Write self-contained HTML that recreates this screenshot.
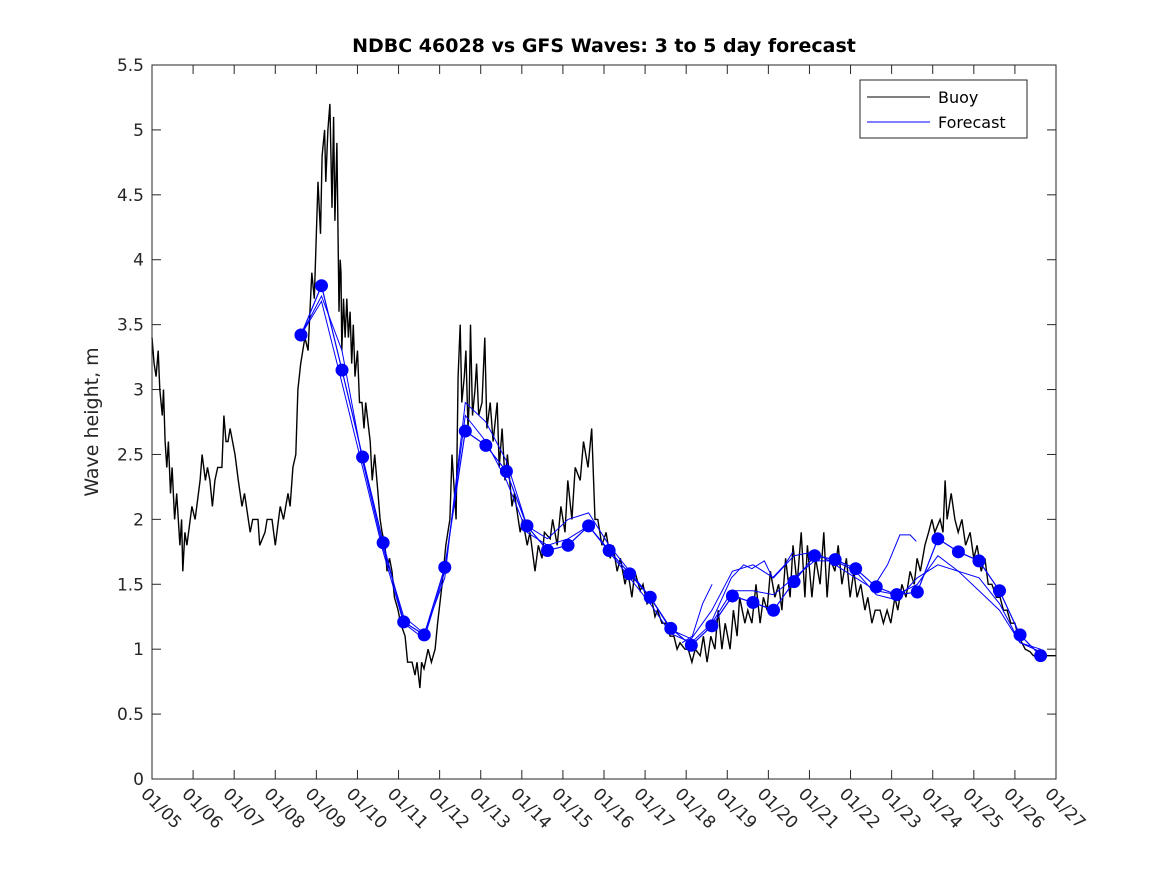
<!DOCTYPE html>
<html><head><meta charset="utf-8"><style>
html,body{margin:0;padding:0;background:#fff;}
svg{display:block;font-family:"DejaVu Sans","Liberation Sans",sans-serif;}
</style></head><body>
<svg id="chart" width="1167" height="875" viewBox="0 0 1167 875" xmlns="http://www.w3.org/2000/svg">
<rect x="0" y="0" width="1167" height="875" fill="#fff"/>
<text x="604" y="52" text-anchor="middle" font-size="19" font-weight="bold" fill="#000">NDBC 46028 vs GFS Waves: 3 to 5 day forecast</text>
<text transform="translate(98,422) rotate(-90)" text-anchor="middle" font-size="19" fill="#262626">Wave height, m</text>
<g id="grid"></g>
<g id="series"></g>
<rect x="152" y="65" width="904" height="714" fill="none" stroke="#262626" stroke-width="1"/>
<g>
<rect x="860" y="80" width="167" height="58" fill="#fff" stroke="#262626" stroke-width="1"/>
<line x1="867" y1="97" x2="930" y2="97" stroke="#000" stroke-width="1"/>
<text x="938" y="103" font-size="16" fill="#000">Buoy</text>
<line x1="867" y1="122" x2="930" y2="122" stroke="#00f" stroke-width="1"/>
<text x="938" y="128" font-size="16" fill="#000">Forecast</text>
</g>
</svg>
<script>
const yTicks=[0,0.5,1,1.5,2,2.5,3,3.5,4,4.5,5,5.5];
const xTickLabels=["01/05","01/06","01/07","01/08","01/09","01/10","01/11","01/12","01/13","01/14","01/15","01/16","01/17","01/18","01/19","01/20","01/21","01/22","01/23","01/24","01/25","01/26","01/27"];
const buoyDays=[
0,.05,.1,.15,.19,.25,.28,.32,.36,.4,
.45,.49,.55,.6,.68,.72,.75,.8,.85,.97,
1.05,1.17,1.22,1.3,1.35,1.41,1.47,1.53,1.6,1.7,
1.75,1.8,1.85,1.9,2.02,2.1,2.19,2.25,2.39,2.45,
2.58,2.62,2.75,2.8,2.92,3.0,3.12,3.2,3.31,3.36,
3.43,3.5,3.55,3.62,3.72,3.8,3.89,3.95,4.04,4.1,
4.14,4.2,4.23,4.28,4.33,4.38,4.42,4.45,4.5,4.55,
4.58,4.6,4.62,4.66,4.7,4.74,4.78,4.82,4.86,4.9,
4.94,5.0,5.05,5.11,5.16,5.2,5.31,5.36,5.42,5.5,
5.55,5.6,5.67,5.72,5.78,5.84,5.9,5.99,6.05,6.16,
6.22,6.33,6.4,6.45,6.52,6.56,6.62,6.72,6.8,6.89,
6.95,7.06,7.15,7.25,7.3,7.4,7.45,7.5,7.54,7.6,
7.64,7.69,7.72,7.75,7.8,7.86,7.9,7.95,8.03,8.1,
8.15,8.23,8.3,8.4,8.45,8.52,8.59,8.65,8.76,8.82,
8.96,9.02,9.13,9.2,9.32,9.4,9.49,9.55,9.69,9.75,
9.86,9.95,10.05,10.12,10.22,10.3,10.42,10.5,10.61,10.7,
10.78,10.85,10.95,11.05,11.15,11.22,11.32,11.4,11.51,11.58,
11.68,11.75,11.88,11.95,12.05,12.15,12.24,12.3,12.41,12.5,
12.61,12.7,12.78,12.85,12.97,13.05,13.14,13.22,13.34,13.42,
13.51,13.6,13.7,13.78,13.87,13.95,14.07,14.15,14.24,14.3,
14.43,14.5,14.6,14.7,14.8,14.88,14.97,15.05,15.16,15.25,
15.33,15.42,15.53,15.6,15.7,15.8,15.89,15.95,16.06,16.15,
16.26,16.35,16.43,16.5,16.62,16.7,16.79,16.9,16.99,17.08,
17.16,17.25,17.35,17.42,17.52,17.6,17.72,17.8,17.89,17.98,
18.08,18.15,18.25,18.35,18.45,18.55,18.62,18.7,18.81,18.9,
18.98,19.05,19.18,19.25,19.3,19.35,19.45,19.54,19.62,19.71,
19.8,19.91,20.0,20.08,20.18,20.27,20.35,20.44,20.55,20.64,
20.72,20.81,20.9,21.0,21.08,21.17,21.25,21.37,21.45,21.54,
21.63,21.73,22];
const buoyValues=[
3.4,3.2,3.1,3.3,3.0,2.8,3.0,2.6,2.4,2.6,
2.2,2.4,2.0,2.2,1.8,2.0,1.6,1.9,1.8,2.1,
2.0,2.3,2.5,2.3,2.4,2.3,2.1,2.3,2.4,2.4,
2.8,2.6,2.6,2.7,2.5,2.3,2.1,2.2,1.9,2.0,
2.0,1.8,1.9,2.0,2.0,1.8,2.1,2.0,2.2,2.1,
2.4,2.5,3.0,3.2,3.4,3.3,3.9,3.7,4.6,4.2,
4.8,5.0,4.6,5.0,5.2,4.4,5.1,4.3,4.9,3.6,
4.0,3.9,3.3,3.7,3.4,3.7,3.4,3.6,3.2,3.5,
3.1,3.3,2.9,2.9,2.7,2.9,2.6,2.3,2.5,2.2,
2.0,1.9,1.8,1.6,1.7,1.6,1.4,1.3,1.2,1.1,
0.9,0.9,0.8,0.9,0.7,0.9,0.85,1.0,0.9,1.0,
1.2,1.5,1.8,2.0,2.5,2.0,3.1,3.5,2.9,3.1,
3.3,2.7,2.9,3.5,2.8,3.0,3.2,2.8,2.9,3.4,
2.7,2.9,2.6,2.9,2.4,2.7,2.3,2.5,2.1,2.2,
1.9,2.0,1.8,1.9,1.6,1.8,1.7,1.9,1.85,2.0,
1.8,2.1,1.9,2.3,2.0,2.4,2.3,2.6,2.4,2.7,
2.0,2.0,1.8,1.9,1.7,1.8,1.6,1.7,1.5,1.6,
1.4,1.6,1.45,1.5,1.35,1.4,1.25,1.3,1.2,1.2,
1.1,1.1,1.0,1.05,1.0,1.0,0.9,1.0,0.95,1.1,
0.9,1.1,1.0,1.3,1.0,1.2,1.0,1.3,1.1,1.4,
1.2,1.3,1.2,1.5,1.2,1.4,1.3,1.6,1.4,1.5,
1.3,1.7,1.4,1.8,1.5,1.9,1.4,1.8,1.4,1.7,
1.5,1.9,1.4,1.7,1.6,1.8,1.5,1.7,1.4,1.6,
1.4,1.5,1.3,1.4,1.2,1.3,1.3,1.2,1.3,1.2,
1.4,1.3,1.5,1.4,1.6,1.5,1.7,1.6,1.8,1.9,
2.0,1.9,2.0,1.9,2.3,2.0,2.2,2.0,1.9,2.0,
1.8,1.9,1.7,1.8,1.6,1.7,1.5,1.5,1.4,1.4,
1.3,1.3,1.2,1.2,1.1,1.05,1.0,0.98,0.95,0.95,
0.95,0.95,0.95];
const fcDays=[3.625,4.125,4.625,5.125,5.625,6.125,6.625,7.125,7.625,8.125,8.625,9.125,9.625,10.125,10.625,11.125,11.625,12.125,12.625,13.125,13.625,14.125,14.625,15.125,15.625,16.125,16.625,17.125,17.625,18.125,18.625,19.125,19.625,20.125,20.625,21.125,21.625];
const fcDots=[3.42,3.80,3.15,2.48,1.82,1.21,1.11,1.63,2.68,2.57,2.37,1.95,1.76,1.80,1.95,1.76,1.58,1.40,1.16,1.03,1.18,1.41,1.36,1.30,1.52,1.72,1.69,1.62,1.48,1.42,1.44,1.85,1.75,1.68,1.45,1.11,0.95];
const fcUpper=[3.42,3.72,3.30,2.45,1.78,1.25,1.12,1.55,2.90,2.75,2.45,1.95,1.85,2.00,2.05,1.80,1.60,1.40,1.15,1.08,1.30,1.60,1.65,1.55,1.72,1.75,1.65,1.55,1.45,1.42,1.50,1.72,1.60,1.55,1.35,1.05,1.00];
const fcLower=[3.42,3.68,3.05,2.40,1.75,1.20,1.08,1.60,2.80,2.60,2.30,1.90,1.80,1.85,1.95,1.75,1.55,1.35,1.12,1.05,1.20,1.45,1.45,1.42,1.55,1.68,1.68,1.60,1.42,1.38,1.55,1.65,1.60,1.45,1.30,1.05,0.98];
const segADays=[12.9,13.15,13.4,13.63];
const segAValues=[1.05,1.1,1.35,1.5];
const segBDays=[13.6,14.1,14.4,14.6,14.9,15.1,15.4,15.6];
const segBValues=[1.2,1.55,1.65,1.62,1.68,1.55,1.65,1.75];
const segCDays=[17.5,17.9,18.2,18.45,18.6];
const segCValues=[1.45,1.65,1.88,1.88,1.83];

const NS="http://www.w3.org/2000/svg";
const X0=152,X1=1056,Y0=779,Y1=65;
const xs=d=>X0+(d/22)*(X1-X0);
const ys=v=>Y0-(v/5.5)*(Y0-Y1);
function mk(tag,attrs,parent){const e=document.createElementNS(NS,tag);for(const k in attrs)e.setAttribute(k,attrs[k]);parent.appendChild(e);return e;}
const grid=document.getElementById('grid');
const ser=document.getElementById('series');
yTicks.forEach(v=>{
  const y=ys(v);
  const t1=mk('line',{x1:X0,y1:y,x2:X0+9,y2:y,stroke:'#262626'},grid);
  
  
  mk('line',{x1:X1-9,y1:y,x2:X1,y2:y,stroke:'#262626'},grid);
  const tx=mk('text',{x:X0-8,y:y+6,'text-anchor':'end','font-size':'17',fill:'#262626'},grid);
  tx.textContent=String(v);
  
  
});
xTickLabels.forEach((lab,i)=>{
  const x=xs(i);
  const t1=mk('line',{x1:x,y1:Y0,x2:x,y2:Y0-9,stroke:'#262626'},grid);
  
  
  mk('line',{x1:x,y1:Y1,x2:x,y2:Y1+9,stroke:'#262626'},grid);
  const tx=mk('text',{x:0,y:0,'font-size':'17',fill:'#262626',transform:`translate(${x-12},${Y0+16}) rotate(45)`},grid);
  tx.textContent=lab;
  
  
});
function line(days,vals,color,w,name){
  const n=Math.min(days.length,vals.length);
  const pts=[];
  for(let i=0;i<n;i++)pts.push(xs(days[i]).toFixed(1)+','+ys(vals[i]).toFixed(1));
  const p=mk('polyline',{points:pts.join(' '),fill:'none',stroke:color,'stroke-width':w,'stroke-linejoin':'miter'},ser);
  
  
}
line(buoyDays,buoyValues,'#000',1.4,'buoy-line');
line(fcDays,fcUpper,'#0000ff',1,'forecast-line-upper');
line(fcDays,fcLower,'#0000ff',1,'forecast-line-lower');
line(fcDays,fcDots,'#0000ff',1.2,'forecast-line-main');
line(segADays,segAValues,'#0000ff',1,'forecast-segment-a');
line(segBDays,segBValues,'#0000ff',1,'forecast-segment-b');
line(segCDays,segCValues,'#0000ff',1,'forecast-segment-c');
fcDays.forEach((d,i)=>{
  const c=mk('circle',{cx:xs(d),cy:ys(fcDots[i]),r:6.5,fill:'#0000ff'},ser);
  
  
});
</script>
</body></html>
